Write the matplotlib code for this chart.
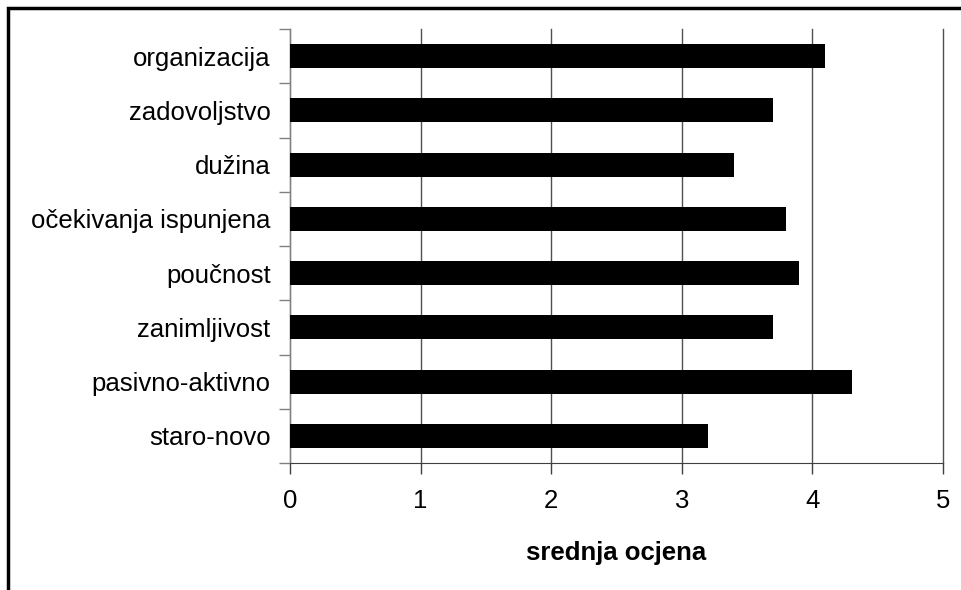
import matplotlib.pyplot as plt
from matplotlib.patches import Rectangle

plt.rcParams['font.family'] = ['Liberation Sans', 'DejaVu Sans']

categories = ['organizacija', 'zadovoljstvo', 'dužina', 'očekivanja ispunjena',
              'poučnost', 'zanimljivost', 'pasivno-aktivno', 'staro-novo']
values = [4.1, 3.7, 3.4, 3.8, 3.9, 3.7, 4.3, 3.2]
xticks = [0, 1, 2, 3, 4, 5]

fig = plt.figure(figsize=(9.61, 5.9), dpi=100)
ax = fig.add_axes([290 / 961, 1 - 463 / 590, (943 - 290) / 961, (463 - 29) / 590])

n = len(categories)
ypos = list(range(n - 1, -1, -1))
ax.barh(ypos, values, height=0.44, color='black', zorder=3)

ax.set_xlim(0, 5)
ax.set_ylim(-0.5, n - 0.5)
ax.set_xticks(xticks)
ax.set_xticklabels([str(t) for t in xticks], fontsize=18.5)
ax.set_yticks(ypos)
ax.set_yticklabels(categories, fontsize=18.5)
ax.set_yticks([i - 0.5 for i in range(n + 1)], minor=True)
ax.tick_params(axis='y', which='major', length=0, pad=14)
ax.tick_params(axis='y', which='minor', length=8, color='#808080', width=1)
ax.tick_params(axis='x', length=8, color='#404040', width=1, pad=11)

ax.grid(axis='x', color='#505050', linewidth=1, zorder=0)
for gl in ax.get_xgridlines():
    gl.set_clip_on(False)
for s in ['top', 'right']:
    ax.spines[s].set_visible(False)
ax.spines['left'].set_color('#808080')
ax.spines['bottom'].set_color('#404040')

ax.set_xlabel('srednja ocjena', fontsize=18.5, fontweight='bold', labelpad=20)

# outer chart frame (cut off at right and bottom)
fig.patches.append(Rectangle((8 / 961, -0.1), 1.2, 1 - 8 / 590 + 0.1,
                             transform=fig.transFigure, fill=False,
                             edgecolor='black', linewidth=2.5))

fig.savefig('out.png', dpi=100)
